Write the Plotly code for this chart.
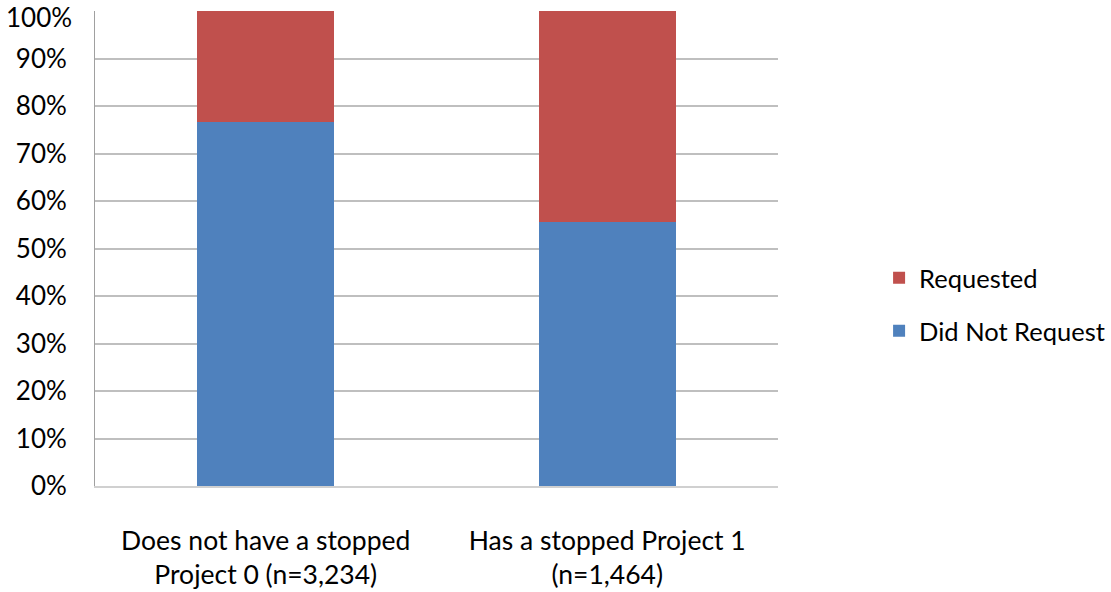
import plotly.graph_objects as go

categories = ["Does not have a stopped<br>Project 0 (n=3,234)",
              "Has a stopped Project 1<br>(n=1,464)"]
did_not_request = [76.7, 55.6]
requested = [23.3, 44.4]
y_ticks = list(range(0, 101, 10))
y_tick_labels = [f"{v}%" for v in y_ticks]

FONT = "Lato, 'Open Sans', sans-serif"

fig = go.Figure()
fig.add_trace(go.Bar(x=categories, y=did_not_request, name="Did Not Request",
                     marker=dict(color="#4F81BD", line=dict(width=0)),
                     legendgroup="a", legendrank=2))
fig.add_trace(go.Bar(x=categories, y=requested, name="Requested",
                     marker=dict(color="#C0504D", line=dict(width=0)),
                     legendgroup="b", legendrank=1))

# The topmost tick label is drawn separately so it stays inside the page
axis_labels = y_tick_labels[:-1] + [""]
fig.add_annotation(text=y_tick_labels[-1], xref="paper", x=0, xanchor="right",
                   xshift=-22, yref="paper", y=1, yanchor="top", yshift=11,
                   showarrow=False, font=dict(size=26), borderpad=0)

fig.update_layout(
    width=1111, height=592,
    barmode="stack", bargap=0.6,
    plot_bgcolor="white", paper_bgcolor="white",
    margin=dict(l=95, r=333, t=11, b=106, autoexpand=False),
    font=dict(family=FONT, size=26, color="#000000"),
    legend=dict(x=1.148, y=0.382, xanchor="left", yanchor="middle",
                traceorder="grouped", tracegroupgap=17,
                font=dict(size=25.5), itemwidth=30),
    showlegend=True,
)
fig.update_yaxes(range=[0, 100.1], tickvals=y_ticks, ticktext=axis_labels,
                 automargin=False, ticklabeloverflow="allow",
                 showgrid=True, gridcolor="#bfbfbf", gridwidth=2,
                 showline=True, linecolor="#a0a0a0", linewidth=1,
                 ticks="", ticklabelstandoff=22, zeroline=False,
                 tickfont=dict(size=26))
fig.update_xaxes(showline=True, linecolor="#d0d0d0", linewidth=2,
                 automargin=False,
                 ticks="", ticklabelstandoff=30, tickfont=dict(size=26.5))

fig.write_html("out.html")
